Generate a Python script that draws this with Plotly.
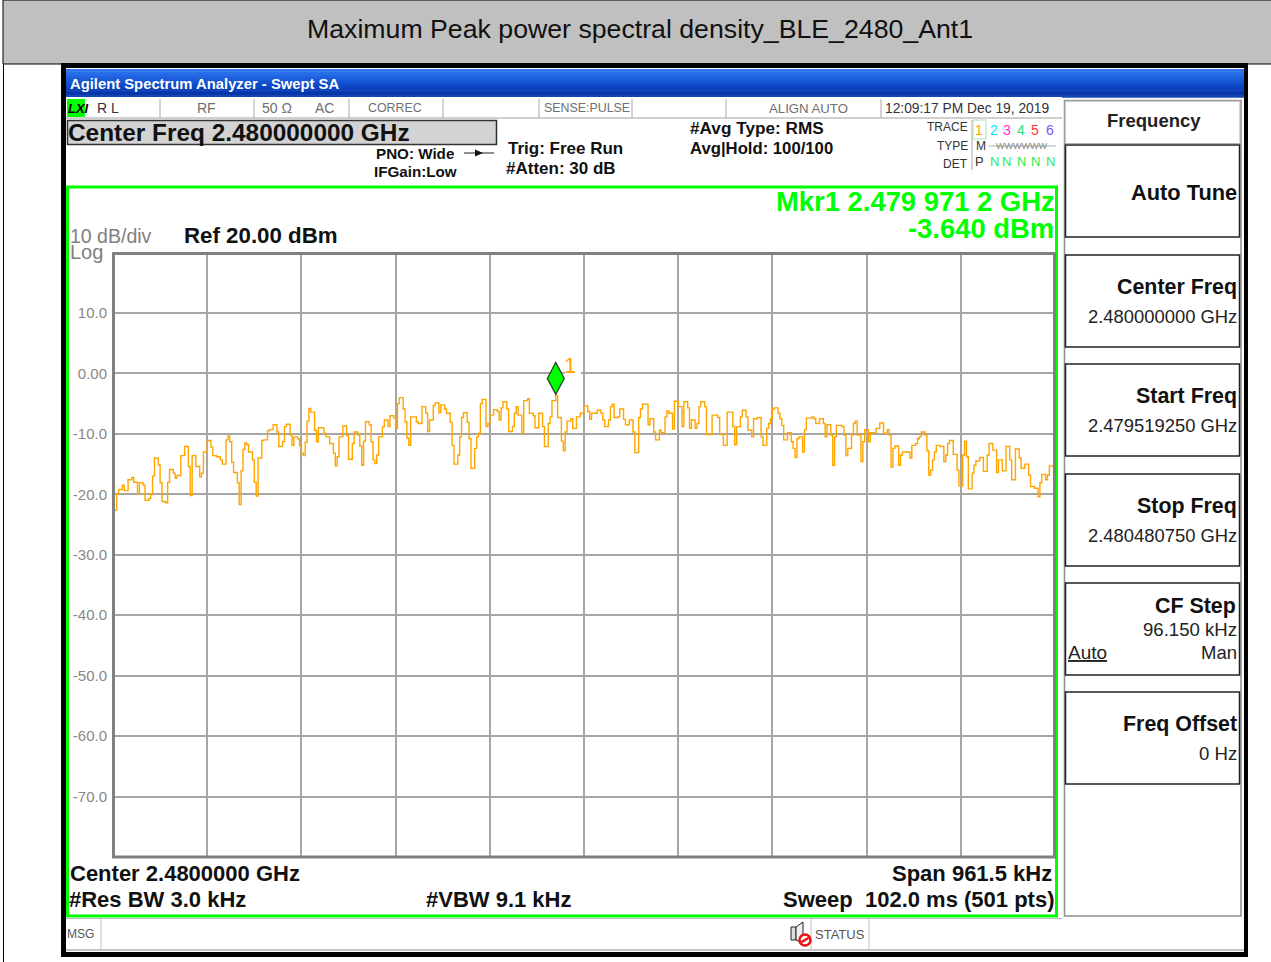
import plotly.graph_objects as go

W, H = 1271, 962

title_text = "Maximum Peak power spectral density_BLE_2480_Ant1"
start_ghz = 2.47951925
span_ghz = 0.0009615
n_sweep_steps = 500
ref_level = 20
bottom_level = -80
y_tick_vals = [10, 0, -10, -20, -30, -40, -50, -60, -70]
y_tick_text = ["10.0", "0.00", "-10.0", "-20.0", "-30.0", "-40.0", "-50.0", "-60.0", "-70.0"]
marker_ghz = 2.4799712
marker_dbm = -3.64

idx_a = [0,1,2,3,5,6,8,10,11,13,
         14,16,17,19,20,21,22,24,25,26,
         28,29,30,32,33,34,36,38,40,41,
         42,44,46,47,48,50,52,53,55,57,
         58,60,61,62,63,64,66,67,68,69,
         70,71,72,74,75,76,77,79,80]
dbm_a = [-22.6,-22.6,-20,-19.2,-18.5,-19.4,-17.6,-17.2,-18,-20,
         -18.1,-18.5,-21,-20.7,-20,-17,-14,-15.1,-18.1,-21.2,
         -21.4,-18,-15.9,-16.5,-17.3,-16.9,-13.6,-12.1,-15.4,-20.2,
         -13.6,-15.4,-17.1,-16.5,-13,-11.1,-12.2,-13.6,-13.8,-14.3,
         -15,-11,-10.4,-11.3,-14.7,-16.4,-18.1,-21.7,-16.1,-12.6,
         -11.5,-11.8,-13,-14.3,-18,-20.3,-14,-11.1,-11]
idx_b = [82,83,85,87,88,90,91,92,94,95,
         96,98,99,100,101,102,103,104,105,107,
         108,109,112,113,115,117,118,119,120,122,
         124,125,127,128,130,131,132,133,134,136,
         137,138,139,140,141,143,144,146,147,149,
         150,151,152,154,155,156,157,158,161,162]
dbm_b = [-9.5,-9.3,-8.5,-9.7,-12.1,-11.3,-8.8,-8.4,-10.2,-11.9,
         -10.5,-10.8,-12,-13.2,-13.6,-11.4,-7.9,-5.8,-6.4,-9.4,
         -11.3,-9,-9.9,-10.5,-11.6,-13.2,-15.3,-13.8,-10.5,-8.7,
         -10.3,-14.2,-11.6,-9.7,-10.2,-12,-15.2,-11.2,-8,-8.5,
         -11.3,-14.3,-14.9,-13.5,-10.5,-8.8,-7.7,-8.8,-7,-7.4,
         -9.1,-5,-4,-5.9,-8,-10.7,-11.9,-7.2,-8,-8.3]
idx_c = [164,166,167,168,170,171,173,174,176,177,
         179,180,181,183,184,185,186,188,189,190,
         192,193,194,195,196,198,199,200,202,204,
         205,206,207,209,210,212,213,214,215,217,
         218,220,221,223,224,226,228,229,231,232,
         233,235,236,238,239,240,241,243,244]
dbm_c = [-5.5,-6.6,-9.6,-7.7,-5.3,-4.9,-6.5,-5.2,-5.9,-6.6,
         -8.1,-11.9,-15,-13.5,-10.5,-7.3,-6.5,-8.1,-10.8,-15.7,
         -12.4,-10.5,-9.9,-5,-4.3,-8.8,-8.3,-6.9,-6,-6.3,
         -7.7,-5.7,-4.7,-5.9,-9.6,-8.8,-6.6,-5.5,-6.9,-9.9,
         -4.5,-4.2,-6.6,-7,-9,-6.6,-8.8,-12.1,-8.3,-7.2,
         -4.5,-3.64,-7.3,-11.2,-12.8,-9.7,-7.9,-7.5,-9.1]
idx_d = [246,248,250,252,253,254,257,259,260,261,
         263,264,265,266,268,269,271,272,274,276,
         277,279,280,281,284,285,287,288,290,291,
         293,294,295,297,298,300,302,303,305,306,
         307,309,310,311,312,314,315,318,321,322,
         324,326,329]
dbm_d = [-7.2,-6.6,-5.4,-6.3,-7.6,-6.6,-6.1,-6.6,-7.7,-8.8,
         -7.7,-5.5,-5.1,-7.3,-7.2,-5.9,-7.6,-8.5,-7.7,-9.7,
         -13.1,-7.3,-5.9,-5.1,-8.5,-7.5,-9.7,-11,-9.4,-9.8,
         -7.2,-6.2,-6.6,-9.2,-4.6,-5.5,-8.8,-4.7,-5.7,-9.1,
         -7.7,-9.1,-8.3,-5.5,-4.7,-5.5,-10.1,-6.9,-7.3,-10.1,
         -11.9,-6.4,-8.8]
idx_e = [330,331,333,334,336,337,339,340,342,344,
         345,347,348,349,350,351,353,354,355,356,
         358,360,361,362,363,364,366,367,368,371,
         372,373,375,377,378,379,381,382,383,384,
         387,388,389,390,392,393,394,395,397,398,
         399,401,402,405,407,409,411,412]
dbm_e = [-11.8,-8.8,-7.2,-6.1,-7.2,-9.4,-10.5,-7.5,-7.3,-10.5,
         -11.9,-9.1,-8.3,-7.5,-5.9,-5.7,-6.6,-7.5,-8.6,-11,
         -9.8,-11.3,-12.4,-13.9,-10.8,-10.5,-13,-9.3,-7.4,-7.2,
         -7.5,-8.3,-7.5,-8.3,-10.5,-8.5,-10.2,-15.2,-10.5,-8.6,
         -8.8,-10.2,-13.6,-12.4,-10.2,-8.3,-7.9,-10.2,-14.6,-11.3,
         -9.3,-11.3,-9.8,-9.1,-8.2,-9.9,-9.3,-10.2]
idx_f = [413,414,415,417,418,419,423,424,426,427,
         428,429,431,432,433,434,435,436,437,439,
         441,442,443,444,446,448,449,451,452,453,
         454,456,457,458,460,462,464,465,467,469,
         470,472,474,476,477,479,481,482,484,486,
         487,489,491,492,493,495,496,497,499,500]
dbm_f = [-15.5,-12.4,-12,-15.2,-13.5,-13,-14,-11.9,-11.6,-10.8,
         -10.5,-9.7,-10.2,-12.8,-16.8,-16,-14.3,-13,-11.9,-12.1,
         -14.6,-13.5,-11.6,-11.1,-13.4,-16,-18.6,-13.5,-11.2,-13.8,
         -19.1,-16.5,-15.2,-14.5,-13.9,-16.2,-13.5,-11.6,-12.7,-16.4,
         -14.3,-16.1,-12.1,-14.3,-17.6,-12.5,-14,-15.7,-15,-16.8,
         -18.7,-19,-20.4,-18.1,-16.7,-17.6,-16.8,-15.3,-15.5,-19.6]

trace_idx = idx_a + idx_b + idx_c + idx_d + idx_e + idx_f
trace_dbm = dbm_a + dbm_b + dbm_c + dbm_d + dbm_e + dbm_f
trace_ghz = [start_ghz + i * span_ghz / n_sweep_steps for i in trace_idx]

FONT = "Liberation Sans"
ORANGE = "#ffa500"
GREEN = "#00ff00"
GRID = "#a6a6a6"


def fx(x):
    return x / W


def fy(y):
    return 1 - y / H


shapes = []
annotations = []


def rect(x0, y0, x1, y1, fill=None, line=None, lw=1, layer="below"):
    shapes.append(dict(type="rect", xref="paper", yref="paper",
                       x0=fx(x0), x1=fx(x1), y0=fy(y0), y1=fy(y1),
                       fillcolor=fill or "rgba(0,0,0,0)",
                       line=dict(color=line or "rgba(0,0,0,0)", width=lw if line else 0),
                       layer=layer))


def seg(x0, y0, x1, y1, color, lw=1, layer="below"):
    shapes.append(dict(type="line", xref="paper", yref="paper",
                       x0=fx(x0), x1=fx(x1), y0=fy(y0), y1=fy(y1),
                       line=dict(color=color, width=lw), layer=layer))


def text(x, y, s, size, color="#111111", bold=False, anchor="left", bg=None):
    dx = {"left": -1, "right": 1, "center": 0}[anchor]
    annotations.append(dict(xref="paper", yref="paper", x=fx(x + dx), y=fy(y),
                            text=f"<b>{s}</b>" if bold else s,
                            showarrow=False, xanchor=anchor, yanchor="middle",
                            font=dict(family=FONT, size=size, color=color),
                            bgcolor=bg, borderpad=0))


# page: banner and outer frame
rect(0, 0, W, H, fill="white")
seg(3.5, 0, 3.5, H, "#000000", 1)
rect(3, 0, W + 2, 64, fill="#c0c0c0", line="#000000", lw=1)
text(640, 29, title_text, 26.7, "#111111", anchor="center")

# instrument black frame
rect(61, 63, 1248, 957, fill="#000000")
rect(66, 68, 1244, 952, fill="#ffffff")

# blue title bar
blues = ["#2f76ee", "#2a6fea", "#2569e6", "#1f62e0", "#1a5bda", "#1554d3",
         "#104dcb", "#0c46c3", "#0a40bb", "#083ab2", "#0735a8", "#1546b4"]
for k, c in enumerate(blues):
    rect(66, 69 + k * 2.35, 1244, 69 + (k + 1) * 2.35 + 0.5, fill=c)
text(70, 84, "Agilent Spectrum Analyzer - Swept SA", 14.8, "#ffffff", bold=True)

# status row
rect(66, 97, 1062, 118, fill="#ffffff")
seg(66, 118, 1062, 118, "#a0a0a0", 1)
rect(67, 99, 85, 117, fill=GREEN)
text(68, 108, "<i>LXI</i>", 13, "#000000", bold=True)
for xd in [160, 254, 349, 443, 539, 632, 726, 881]:
    seg(xd, 99, xd, 118, "#a8a8a8", 1)
for xs, s, sz in [(108, "R L", 14), (206, "RF", 14), (277, "50 Ω", 14), (325, "AC", 14),
                  (395, "CORREC", 12.4), (587, "SENSE:PULSE", 12.4), (808, "ALIGN AUTO", 13.2)]:
    text(xs, 108, s, sz, "#707070" if s != "R L" else "#333333", anchor="center")
text(967, 108, "12:09:17 PM Dec 19, 2019", 13.8, "#333333", anchor="center")

# header
rect(67.5, 120.5, 496.5, 144.5, fill="#d3d3d3", line="#333333", lw=1.5)
text(68, 132, "Center Freq 2.480000000 GHz", 24.4, "#111111", bold=True)
text(376, 154, "PNO: Wide", 15.2, bold=True)
seg(464, 153, 494, 153, "#222222", 1)
shapes.append(dict(type="path", xref="paper", yref="paper",
                   path=f"M {fx(475)} {fy(149.5)} L {fx(483)} {fy(153)} L {fx(475)} {fy(156.5)} Z",
                   fillcolor="#111111", line=dict(color="#111111", width=0)))
text(374, 171, "IFGain:Low", 15.2, bold=True)
text(508, 148, "Trig: Free Run", 17, bold=True)
text(506, 169, "#Atten: 30 dB", 17, bold=True)
text(690, 128, "#Avg Type: RMS", 17.2, bold=True)
text(690, 148, "Avg|Hold: 100/100", 16.7, bold=True)
for yt, s in [(127, "TRACE"), (146, "TYPE"), (164, "DET")]:
    text(968, yt, s, 12, "#333333", anchor="right")
seg(972, 120, 972, 170, "#a8a8a8", 1)
rect(973, 120, 986, 139, line="#b0e0b0", lw=1)
trace_nums = ["1", "2", "3", "4", "5", "6"]
trace_cols = ["#ffa500", "#00e5ff", "#ff33cc", "#33dd77", "#ff3333", "#7755ff"]
trace_pos = [979, 994, 1007, 1021, 1035, 1050]
for xs, s, c in zip(trace_pos, trace_nums, trace_cols):
    text(xs, 130, s, 14, c, anchor="center")
text(981, 146, "M", 12, "#333333", anchor="center")
text(1021, 146, "WWWWWW", 9, "#888888", anchor="center")
seg(989, 146, 1056, 146, "#aaaaaa", 1)
text(980, 162, "P", 13, "#333333", anchor="center")
for xs in trace_pos[1:]:
    text(xs, 162, "N", 13, "#22ee55", anchor="center")

# green display border
rect(67.5, 187, 1056.5, 916, line=GREEN, lw=3)

# softkey panel
rect(1064.5, 100.5, 1241, 916, line="#909090", lw=1.5)
rect(1065, 101, 1240, 143.5, line="#b0b0b0", lw=1)
text(1154, 121, "Frequency", 18.5, "#222222", bold=True, anchor="center")
for y0 in [145, 255, 364, 474, 583, 692]:
    rect(1065.5, y0, 1239.5, y0 + 92, line="#222222", lw=1.5)
text(1237, 192, "Auto Tune", 21.8, bold=True, anchor="right")
text(1237, 287, "Center Freq", 21.4, bold=True, anchor="right")
text(1237, 316, "2.480000000 GHz", 18.4, "#222222", anchor="right")
text(1237, 396, "Start Freq", 21.4, bold=True, anchor="right")
text(1237, 425, "2.479519250 GHz", 18.4, "#222222", anchor="right")
text(1237, 506, "Stop Freq", 21.4, bold=True, anchor="right")
text(1237, 535, "2.480480750 GHz", 18.4, "#222222", anchor="right")
text(1236, 606, "CF Step", 21.4, bold=True, anchor="right")
text(1237, 629, "96.150 kHz", 18.6, "#222222", anchor="right")
text(1068, 652, "<u>Auto</u>", 19, "#222222")
text(1237, 652, "Man", 18.5, "#222222", anchor="right")
text(1237, 724, "Freq Offset", 21.4, bold=True, anchor="right")
text(1237, 753, "0 Hz", 18.6, "#222222", anchor="right")

# display texts
text(70, 236, "10 dB/div", 19.5, "#808080")
text(70, 252, "Log", 20, "#808080")
text(184, 235, "Ref 20.00 dBm", 22.3, "#111111", bold=True)
text(1055, 202, "Mkr1 2.479 971 2 GHz", 27.4, GREEN, bold=True, anchor="right")
text(1054, 228, "-3.640 dBm", 27.4, GREEN, bold=True, anchor="right")
text(70, 873, "Center 2.4800000 GHz", 22, "#111111", bold=True)
text(1052, 873, "Span 961.5 kHz", 22, "#111111", bold=True, anchor="right")
text(69, 899, "#Res BW 3.0 kHz", 22, "#111111", bold=True)
text(426, 899, "#VBW 9.1 kHz", 22, "#111111", bold=True)
text(1054, 899, "Sweep  102.0 ms (501 pts)", 22, "#111111", bold=True, anchor="right")

# message bar
seg(66, 918.5, 1062, 918.5, "#c0c0c0", 1)
seg(66, 950, 1244, 950, "#b0b0b0", 1.5)
seg(101, 919, 101, 950, "#c0c0c0", 1)
seg(811, 919, 811, 950, "#c0c0c0", 1)
seg(869, 919, 869, 950, "#c0c0c0", 1)
text(67, 934, "MSG", 12, "#555555")
text(815, 934, "STATUS", 13, "#555555")
rect(791, 927, 796, 940, fill="#dddddd", line="#222222", lw=1)
shapes.append(dict(type="path", xref="paper", yref="paper",
                   path=f"M {fx(796)} {fy(927)} L {fx(803)} {fy(922)} L {fx(803)} {fy(943)} L {fx(796)} {fy(940)} Z",
                   fillcolor="#eeeeee", line=dict(color="#222222", width=1)))
shapes.append(dict(type="circle", xref="paper", yref="paper",
                   x0=fx(799.5), x1=fx(810.5), y0=fy(934.5), y1=fy(945.5),
                   line=dict(color="#ee1111", width=2.5), fillcolor="#ffffff"))
seg(801.5, 942, 808.5, 938, "#ee1111", 2.5, layer="above")

# frequency axis divisions
x_tick_vals = [start_ghz + k * span_ghz / 10 for k in range(11)]

# graticule outline
rect(113.5, 253.5, 1054.5, 857, line="#808080", lw=3, layer="above")

# marker, anchored on its data point
shapes.append(dict(type="path", xref="x", yref="y",
                   xsizemode="pixel", ysizemode="pixel",
                   xanchor=marker_ghz, yanchor=marker_dbm,
                   path="M 9 20 L 25 20 L 25 42 L 9 42 Z",
                   fillcolor="#ffffff", line=dict(color="#ffffff", width=0), layer="above"))
shapes.append(dict(type="path", xref="x", yref="y",
                   xsizemode="pixel", ysizemode="pixel",
                   xanchor=marker_ghz, yanchor=marker_dbm,
                   path="M 0 1 L 8.5 17 L 0 33 L -8.5 17 Z",
                   fillcolor=GREEN, line=dict(color="#224422", width=1.2), layer="above"))
annotations.append(dict(xref="x", yref="y", x=marker_ghz, y=marker_dbm,
                        text="1", showarrow=False, xanchor="center", yanchor="middle",
                        xshift=14, yshift=30,
                        font=dict(family=FONT, size=22, color=ORANGE)))

fig = go.Figure()
fig.add_trace(go.Scatter(x=trace_ghz, y=trace_dbm, mode="lines",
                         line=dict(color=ORANGE, width=1.4, shape="hv"),
                         hoverinfo="skip", showlegend=False))

fig.update_layout(
    width=W, height=H, autosize=False,
    margin=dict(l=0, r=0, t=0, b=0, pad=0),
    paper_bgcolor="white", plot_bgcolor="rgba(0,0,0,0)",
    showlegend=False, shapes=shapes, annotations=annotations,
    xaxis=dict(domain=[fx(113), fx(1055)], range=[start_ghz, start_ghz + span_ghz],
               tickvals=x_tick_vals, showticklabels=False, ticks="",
               showgrid=True, gridcolor=GRID, gridwidth=1.6, zeroline=False,
               showline=False),
    yaxis=dict(domain=[fy(857), fy(252.5)], range=[bottom_level, ref_level],
               tickvals=y_tick_vals, ticktext=y_tick_text, ticks="outside", ticklen=2,
               tickcolor="rgba(0,0,0,0)",
               tickfont=dict(family=FONT, size=15, color="#888888"),
               showgrid=True, gridcolor=GRID, gridwidth=2, zeroline=False,
               showline=False),
)

fig.write_html("out.html", config={"displayModeBar": False},
               post_script="document.body.style.margin='0';document.body.style.overflow='hidden';")
